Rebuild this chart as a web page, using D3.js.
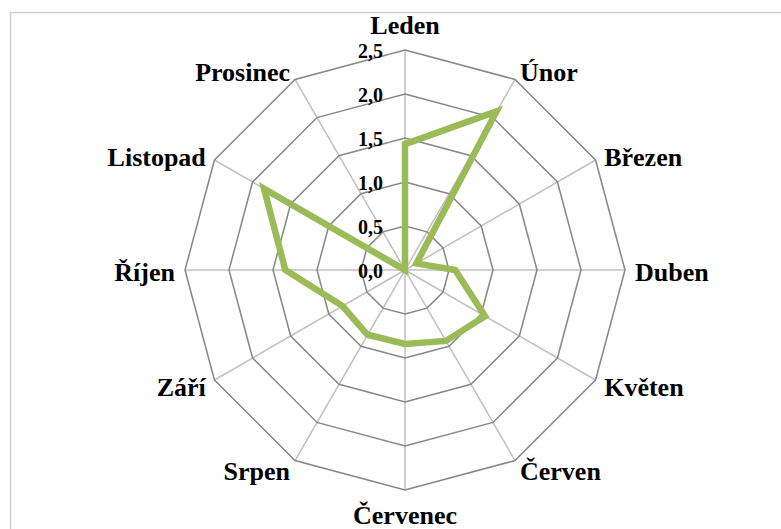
<!DOCTYPE html>
<html>
<head>
<meta charset="utf-8">
<script src="https://cdn.jsdelivr.net/npm/d3@7"></script>
<style>
  html, body { margin: 0; padding: 0; background: #fff; }
  svg { display: block; }
  text { font-family: "Liberation Serif", "Times New Roman", serif; font-weight: bold; fill: #000; }
</style>
</head>
<body>
<script>
const months = ["Leden","Únor","Březen","Duben","Květen","Červen","Červenec","Srpen","Září","Říjen","Listopad","Prosinec"];
const values = [1.43, 2.08, 0.15, 0.57, 1.05, 0.93, 0.84, 0.85, 0.82, 1.36, 1.85, 0.0];
const tickValues = [0, 0.5, 1.0, 1.5, 2.0, 2.5];
const tickLabels = ["0,0","0,5","1,0","1,5","2,0","2,5"];

const W = 781, H = 529;
const cx = 405, cy = 270, R = 220;

const svg = d3.select("body").append("svg").attr("width", W).attr("height", H);

// outer frame
svg.append("rect").attr("x", 10.5).attr("y", 12.5).attr("width", W).attr("height", H)
  .attr("fill", "none").attr("stroke", "#d0d0d0").attr("stroke-width", 1.5);

const r = d3.scaleLinear().domain([0, 2.5]).range([0, R]);
const ang = d3.scalePoint().domain(months).range([0, 2 * Math.PI * (11 / 12)]);

const g = svg.append("g").attr("transform", `translate(${cx},${cy})`);

// spokes
g.selectAll("line.spoke").data(months).enter().append("line")
  .attr("x1", 0).attr("y1", 0)
  .attr("x2", d => r(2.5) * Math.sin(ang(d)))
  .attr("y2", d => -r(2.5) * Math.cos(ang(d)))
  .attr("stroke", "#c0c0c0").attr("stroke-width", 1.5);

// rings
const ringLine = d3.lineRadial().angle(d => ang(d.m)).radius(d => r(d.v)).curve(d3.curveLinearClosed);
g.selectAll("path.ring").data(tickValues.slice(1)).enter().append("path")
  .attr("d", t => ringLine(months.map(m => ({ m, v: t }))))
  .attr("fill", "none").attr("stroke", "#878787").attr("stroke-width", 1.5);

// series
const seriesLine = d3.lineRadial().angle((d, i) => ang(months[i])).radius(d => r(d)).curve(d3.curveLinearClosed);
g.append("path").attr("d", seriesLine(values))
  .attr("fill", "none").attr("stroke", "#9bbb59").attr("stroke-width", 6.5)
  .attr("stroke-linejoin", "miter").attr("stroke-miterlimit", 10);

// tick labels
g.selectAll("text.tick").data(tickValues).enter().append("text")
  .attr("x", -22).attr("y", d => -r(d) + 8)
  .attr("text-anchor", "end").style("font-size", "20px")
  .text((d, i) => tickLabels[i]);

// month labels
g.selectAll("text.month").data(months).enter().append("text")
  .each(function (d) {
    const a = ang(d), s = Math.sin(a), c = Math.cos(a);
    const el = d3.select(this);
    let x, y, anchor;
    if (Math.abs(s) < 0.01) {
      x = 0; y = -(R + 25) * c; anchor = "middle";
    } else {
      x = (R + 10) * s; y = -(R + 10) * c + 2;
      anchor = s > 0 ? "start" : "end";
    }
    el.attr("x", x).attr("y", y).attr("text-anchor", anchor)
      .attr("dominant-baseline", "central").style("font-size", "26px").text(d);
  });
</script>
</body>
</html>
